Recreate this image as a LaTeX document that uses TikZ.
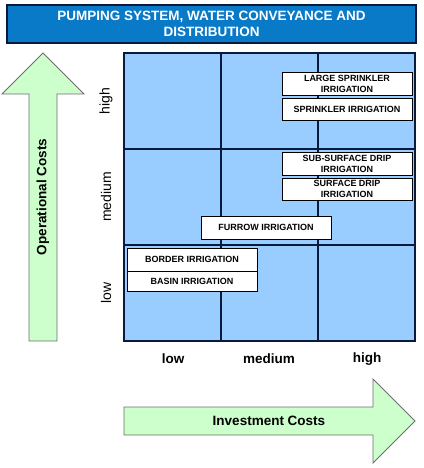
\documentclass[tikz,border=0pt]{standalone}
\usepackage{fontspec}
\setmainfont{Liberation Sans}
\definecolor{titleblue}{RGB}{8,122,200}
\definecolor{gridblue}{RGB}{153,204,255}
\definecolor{gridline}{RGB}{10,26,60}
\definecolor{arrowgreen}{RGB}{204,255,204}
\definecolor{arrowline}{RGB}{110,110,110}
\begin{document}
\begin{tikzpicture}[x=1pt,y=-1pt,
  box/.style={draw=black,line width=0.9pt,fill=white,inner sep=0pt,
    minimum width=130pt,align=center,font=\fontsize{9}{11}\selectfont\bfseries},
  axislab/.style={font=\fontsize{13.5}{15}\selectfont\bfseries},
  sidelab/.style={font=\fontsize{14}{15}\selectfont,rotate=90},
  arrowshape/.style={draw=arrowline,fill=arrowgreen,line width=0.9pt,line join=miter}]
\useasboundingbox (0,0) rectangle (423,468);
% title
\node[draw=gridline,line width=1.4pt,fill=titleblue,inner sep=0pt,
  minimum width=409pt,minimum height=38pt,align=center,text=white,
  font=\fontsize{13.5}{16.5}\selectfont\bfseries] (title) at (211.5,24)
  {PUMPING SYSTEM, WATER CONVEYANCE AND\\DISTRIBUTION};
% grid
\fill[gridblue] (124,53) rectangle (415,341);
\draw[gridline,line width=1.1pt] (124,53) rectangle (415,341);
\draw[gridline,line width=1.1pt] (221,53) -- (221,341) (318,53) -- (318,341)
  (124,149) -- (415,149) (124,245) -- (415,245);
% boxes
\node[box,minimum height=23pt] (ls) at (347,83.5) {LARGE SPRINKLER\\IRRIGATION};
\node[box,minimum height=22pt] (sp) at (347,109) {SPRINKLER IRRIGATION};
\node[box,minimum height=23pt] (ssd) at (347,163.5) {SUB-SURFACE DRIP\\IRRIGATION};
\node[box,minimum height=22pt] (sd) at (347,189) {SURFACE DRIP\\IRRIGATION};
\node[box,minimum height=23pt] (fu) at (266,227.5) {FURROW IRRIGATION};
\node[box,minimum height=23pt] (bo) at (192,259.5) {BORDER IRRIGATION};
\node[box,minimum height=20pt] (ba) at (192,281) {BASIN IRRIGATION};
% vertical arrow
\draw[arrowshape] (29,341) -- (57,341) -- (57,94) -- (84,94) -- (43,53) -- (2,94) -- (29,94) -- cycle;
\node[font=\fontsize{13.5}{15}\selectfont\bfseries,rotate=90] (oc) at (43,197) {Operational Costs};
% horizontal arrow
\draw[arrowshape] (124,407) -- (373,407) -- (373,379) -- (415,421) -- (373,463) -- (373,435) -- (124,435) -- cycle;
\node[font=\fontsize{13.5}{15}\selectfont\bfseries] (ic) at (269,421) {Investment Costs};
% side labels
\node[sidelab] (yh) at (106,101) {high};
\node[sidelab] (ym) at (106,197) {medium};
\node[sidelab] (yl) at (106,293) {low};
% bottom labels
\node[axislab] (xl) at (173,359) {low};
\node[axislab] (xm) at (269,359) {medium};
\node[axislab] (xh) at (367,359) {high};
\end{tikzpicture}
\end{document}
